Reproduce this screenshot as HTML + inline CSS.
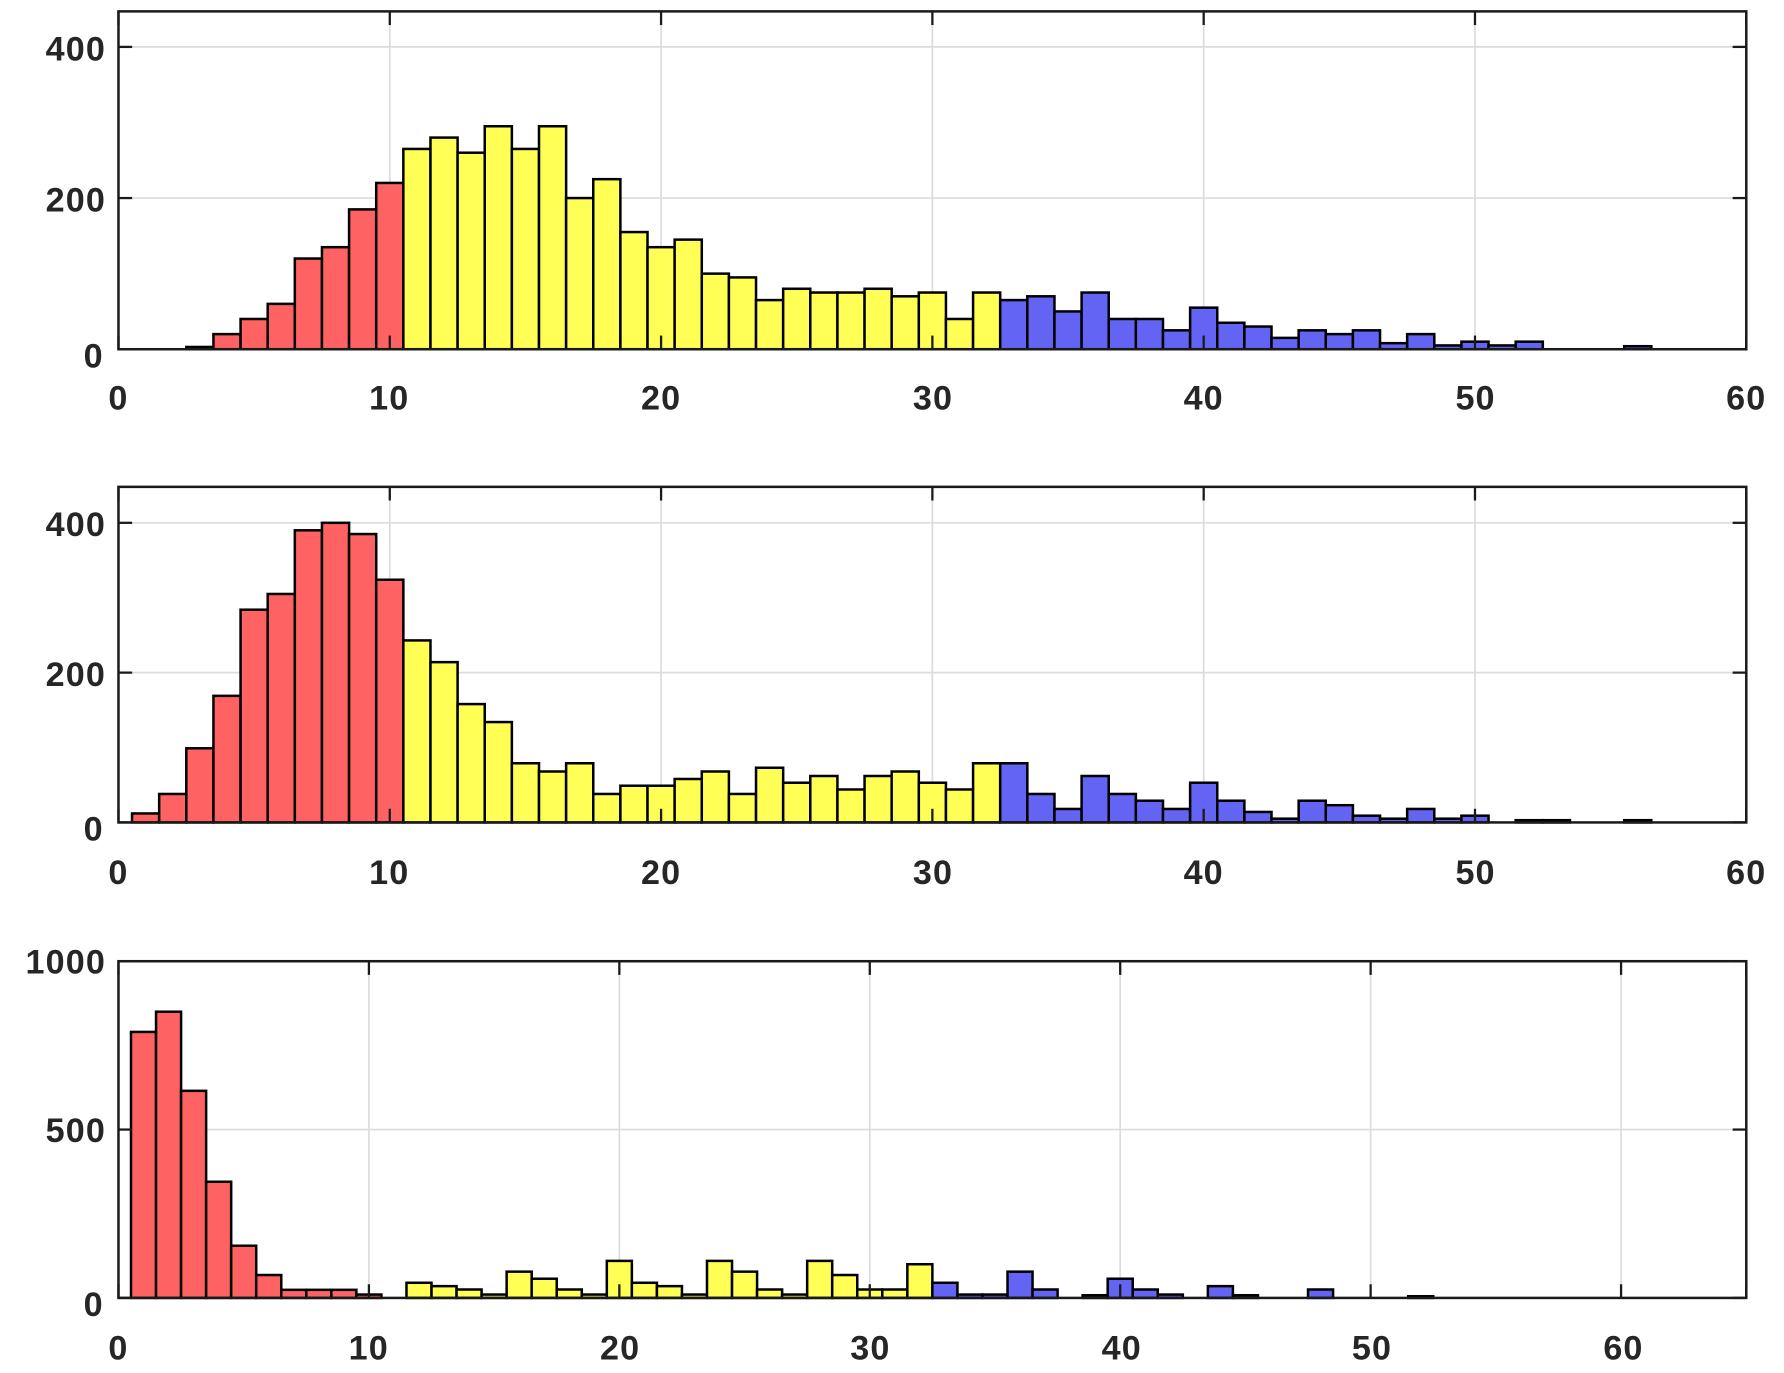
<!DOCTYPE html>
<html><head><meta charset="utf-8"><style>
html,body{margin:0;padding:0;background:#fff;}
svg{display:block}
text{font-family:"Liberation Sans",Arial,sans-serif;font-size:30px;font-weight:bold;fill:#262626;letter-spacing:1px}
</style></head><body>
<svg id="s" width="1784" height="1373" viewBox="0 0 1568 1207" xmlns="http://www.w3.org/2000/svg">
<rect width="1568" height="1207" fill="#fff"/>
<g id="g"></g>
<g text-anchor="end">
<text x="93" y="53">400</text><text x="93" y="186">200</text><text x="91" y="323">0</text>
<text x="93" y="471">400</text><text x="93" y="603">200</text><text x="91" y="739">0</text>
<text x="93" y="856">1000</text><text x="93" y="1004">500</text><text x="91" y="1157">0</text>
</g>
<g text-anchor="middle">
<text x="104" y="360">0</text><text x="342" y="360">10</text><text x="581" y="360">20</text><text x="820" y="360">30</text><text x="1058" y="360">40</text><text x="1297" y="360">50</text><text x="1535" y="360">60</text>
<text x="104" y="777">0</text><text x="342" y="777">10</text><text x="581" y="777">20</text><text x="820" y="777">30</text><text x="1058" y="777">40</text><text x="1297" y="777">50</text><text x="1535" y="777">60</text>
<text x="104" y="1195">0</text><text x="324" y="1195">10</text><text x="545" y="1195">20</text><text x="765" y="1195">30</text><text x="986" y="1195">40</text><text x="1206" y="1195">50</text><text x="1427" y="1195">60</text>
</g>
</svg>
<script>
var NS="http://www.w3.org/2000/svg",g=document.getElementById("g");
function el(t,a){var e=document.createElementNS(NS,t);for(var k in a)e.setAttribute(k,a[k]);g.appendChild(e);return e;}
var L=104,R=1535;
var plots=[
 {top:10,bot:307,ymax:447,xmax:60,yt:[0,200,400],xt:[10,20,30,40,50],
  d:{3:3,4:20,5:40,6:60,7:120,8:135,9:185,10:220,11:265,12:280,13:260,14:295,15:265,16:295,17:200,18:225,19:155,20:135,21:145,22:100,23:95,24:65,25:80,26:75,27:75,28:80,29:70,30:75,31:40,32:75,33:65,34:70,35:50,36:75,37:40,38:40,39:25,40:55,41:35,42:30,43:15,44:25,45:20,46:25,47:8,48:20,49:5,50:10,51:5,52:10,56:4}},
 {top:428,bot:723,ymax:448,xmax:60,yt:[0,200,400],xt:[10,20,30,40,50],
  d:{1:12,2:38,3:99,4:169,5:284,6:305,7:390,8:400,9:385,10:324,11:243,12:214,13:158,14:134,15:79,16:68,17:79,18:38,19:49,20:49,21:58,22:68,23:38,24:73,25:53,26:62,27:44,28:62,29:68,30:53,31:44,32:79,33:79,34:38,35:18,36:62,37:38,38:29,39:18,40:53,41:29,42:14,43:5,44:29,45:23,46:9,47:5,48:18,49:5,50:9,52:3,53:3,56:3}},
 {top:845,bot:1141,ymax:1000,xmax:65,yt:[0,500,1000],xt:[10,20,30,40,50,60],
  d:{1:790,2:850,3:615,4:345,5:155,6:68,7:24,8:24,9:24,10:10,12:45,13:35,14:25,15:10,16:78,17:57,18:25,19:10,20:110,21:45,22:35,23:10,24:110,25:78,26:25,27:10,28:110,29:68,30:25,31:25,32:100,33:45,34:10,35:10,36:78,37:25,39:8,40:57,41:25,42:10,44:35,45:8,48:25,52:5}}
];
plots.forEach(function(p){
 var sx=(R-L)/p.xmax, sy=(p.bot-p.top)/p.ymax;
 p.xt.forEach(function(v){var x=L+v*sx;el("line",{x1:x,x2:x,y1:p.top,y2:p.bot,stroke:"#dcdcdc","stroke-width":1.5});});
 p.yt.forEach(function(v){if(v>0&&v<p.ymax){var y=p.bot-v*sy;el("line",{x1:L,x2:R,y1:y,y2:y,stroke:"#dcdcdc","stroke-width":1.5});}});
 for(var k in p.d){var c=+k,h=p.d[k]*sy,x=L+(c-0.5)*sx;
  var col=c<=10?"#ff6262":(c<=32?"#ffff55":"#6464f4");
  el("rect",{x:x,y:p.bot-h,width:sx,height:h,fill:col,stroke:"#000","stroke-width":2.2});}
 el("rect",{x:L,y:p.top,width:R-L,height:p.bot-p.top,fill:"none",stroke:"#1a1a1a","stroke-width":2.2});
 p.xt.concat([0,p.xmax]).forEach(function(v){var x=L+v*sx;
  el("line",{x1:x,x2:x,y1:p.bot,y2:p.bot-12,stroke:"#1a1a1a","stroke-width":2});
  el("line",{x1:x,x2:x,y1:p.top,y2:p.top+12,stroke:"#1a1a1a","stroke-width":2});});
 p.yt.forEach(function(v){var y=p.bot-v*sy;
  el("line",{x1:L,x2:L+12,y1:y,y2:y,stroke:"#1a1a1a","stroke-width":2});
  el("line",{x1:R,x2:R-12,y1:y,y2:y,stroke:"#1a1a1a","stroke-width":2});});
});
</script>
</body></html>
